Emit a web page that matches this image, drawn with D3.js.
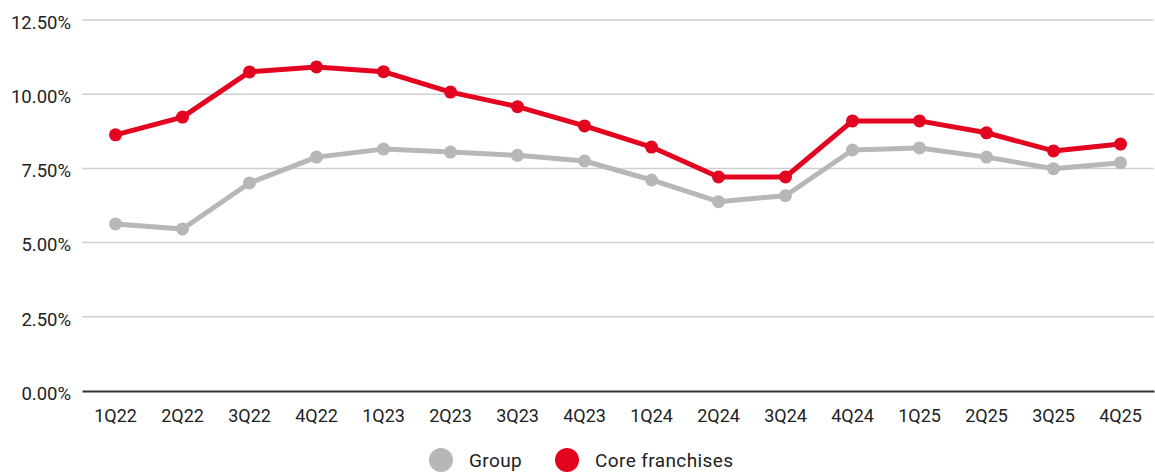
<!DOCTYPE html>
<html>
<head>
<meta charset="utf-8">
<script src="https://cdn.jsdelivr.net/npm/d3@7"></script>
<style>
  html, body { margin: 0; padding: 0; background: #fff; }
  svg { display: block; font-family: Roboto, "Noto Sans", sans-serif; }
</style>
</head>
<body>
<svg id="chart" width="1155" height="474"></svg>
<script>
// Quarterly ratios, in percent
const quarters = ["1Q22","2Q22","3Q22","4Q22","1Q23","2Q23","3Q23","4Q23",
                  "1Q24","2Q24","3Q24","4Q24","1Q25","2Q25","3Q25","4Q25"];
const groupValues = [5.63, 5.46, 7.01, 7.88, 8.15, 8.05, 7.94, 7.75,
                     7.11, 6.38, 6.58, 8.12, 8.19, 7.88, 7.49, 7.69];
const coreValues  = [8.63, 9.23, 10.75, 10.92, 10.76, 10.07, 9.58, 8.93,
                     8.22, 7.21, 7.21, 9.10, 9.10, 8.70, 8.09, 8.32];
const yTicks = [0, 2.5, 5, 7.5, 10, 12.5];
const seriesNames = ["Group", "Core franchises"];
const seriesColors = ["#b7b7b7", "#e30420"];

const svg = d3.select("#chart");
const margin = { left: 82, right: 1, top: 20, bottom: 83 };
const W = 1155, H = 474;

const x = d3.scaleBand().domain(quarters).range([margin.left, W - margin.right]);
const y = d3.scaleLinear().domain([0, 12.5]).range([H - margin.bottom, margin.top]);

// Horizontal gridlines
svg.append("g")
  .selectAll("line")
  .data(yTicks.filter(d => d > 0))
  .join("line")
  .attr("x1", margin.left).attr("x2", W - margin.right)
  .attr("y1", d => y(d)).attr("y2", d => y(d))
  .attr("stroke", "#cfcfcf").attr("stroke-width", 1.5);

// Y axis labels
const yAxis = svg.append("g")
  .attr("transform", `translate(${margin.left},0)`)
  .call(d3.axisLeft(y).tickValues(yTicks).tickSize(0).tickPadding(11)
        .tickFormat(d => d.toFixed(2) + "%"));
yAxis.select(".domain").remove();
yAxis.selectAll("text").attr("font-size", 18.5).attr("fill", "#222")
  .attr("dy", "0.45em")
  .attr("font-family", "Roboto, sans-serif");

// X axis with baseline
const xAxis = svg.append("g")
  .attr("transform", `translate(0,${y(0)})`)
  .call(d3.axisBottom(x).tickSize(0).tickPadding(18));
xAxis.select(".domain").attr("stroke", "#333").attr("stroke-width", 2);
xAxis.selectAll("text").attr("font-size", 18).attr("fill", "#222")
  .attr("font-family", "Roboto, sans-serif");

// Series lines and markers
const series = [groupValues, coreValues];
const line = d3.line()
  .x((d, i) => x(quarters[i]) + x.bandwidth() / 2)
  .y(d => y(d));

series.forEach((vals, s) => {
  const g = svg.append("g");
  g.append("path")
    .datum(vals)
    .attr("d", line)
    .attr("fill", "none")
    .attr("stroke", seriesColors[s])
    .attr("stroke-width", 5)
    .attr("stroke-linejoin", "round");
  g.selectAll("circle")
    .data(vals)
    .join("circle")
    .attr("cx", (d, i) => x(quarters[i]) + x.bandwidth() / 2)
    .attr("cy", d => y(d))
    .attr("r", 6.5)
    .attr("fill", seriesColors[s]);
});

// Legend
const legendItems = [
  { name: seriesNames[0], color: seriesColors[0], cx: 441, tx: 469 },
  { name: seriesNames[1], color: seriesColors[1], cx: 567, tx: 595 }
];
const legend = svg.append("g");
legendItems.forEach(it => {
  legend.append("circle").attr("cx", it.cx).attr("cy", 460).attr("r", 12)
    .attr("fill", it.color);
  legend.append("text").attr("x", it.tx).attr("y", 460).attr("dy", "0.35em")
    .attr("font-size", 19).attr("letter-spacing", 0.4)
    .attr("fill", "#222").text(it.name);
});
</script>
</body>
</html>
